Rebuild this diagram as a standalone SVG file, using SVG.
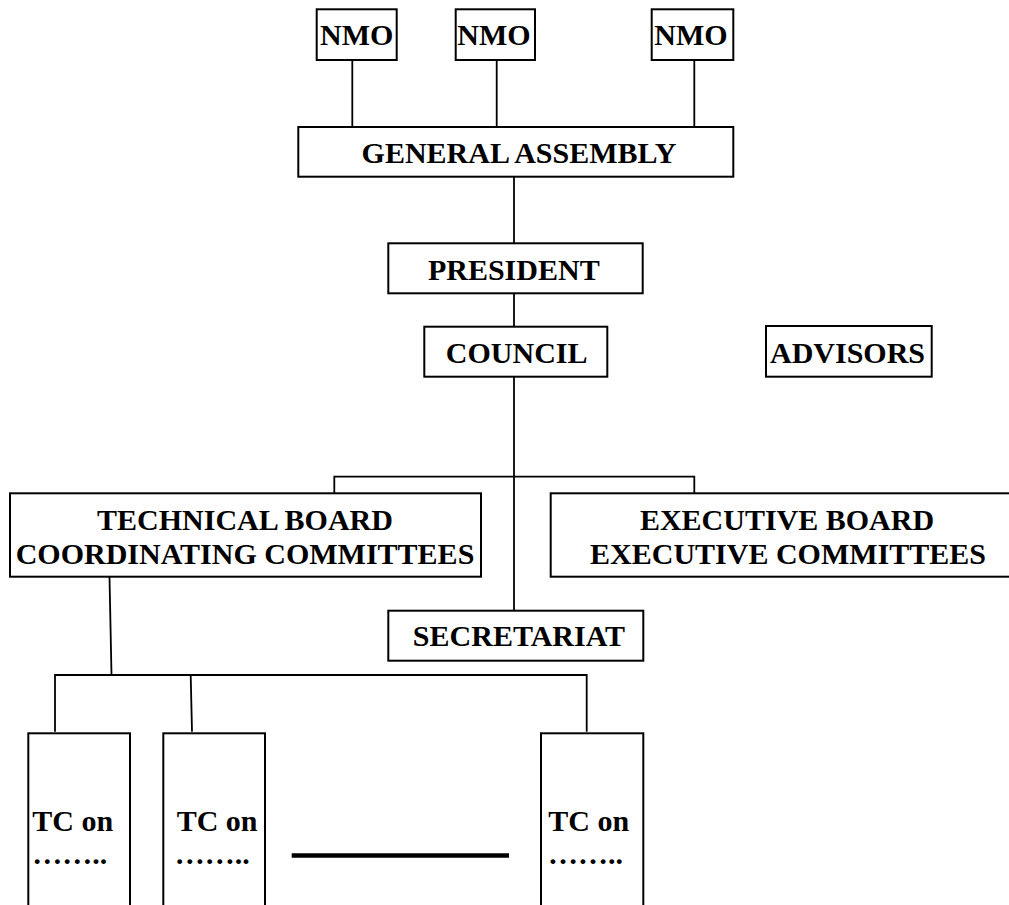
<svg xmlns="http://www.w3.org/2000/svg" width="1009" height="905" viewBox="0 0 1009 905">
<style>
.box{fill:#fff;stroke:#000;stroke-width:2}
.t{font-family:"Liberation Serif","Times New Roman",serif;font-weight:bold;font-size:30px;fill:#000}
.c{text-anchor:middle}
.ln{fill:none;stroke:#000;stroke-width:1.8}
</style>
<rect width="1009" height="905" fill="#fff"/>
<g id="connectors">
<line class="ln" x1="352.3" y1="60" x2="352.3" y2="127"/>
<line class="ln" x1="496.7" y1="60" x2="496.7" y2="127"/>
<line class="ln" x1="694.3" y1="60" x2="694.3" y2="127"/>
<line class="ln" x1="514" y1="176.7" x2="514" y2="243.3"/>
<line class="ln" x1="514" y1="293.3" x2="514" y2="326.7"/>
<line class="ln" x1="514" y1="376.7" x2="514" y2="610.7"/>
<polyline class="ln" points="334.3,493.3 334.3,476.7 694.3,476.7 694.3,493.3"/>
<line class="ln" x1="109.5" y1="576.7" x2="111.5" y2="675"/>
<polyline class="ln" points="55,731.7 55,675 586.7,675 586.7,731.7"/>
<line class="ln" x1="190.7" y1="675" x2="192" y2="731.7"/>
<line x1="291.7" y1="855.5" x2="509" y2="855.5" stroke="#000" stroke-width="4.6"/>
</g>
<g id="nmo1"><rect class="box" x="316.7" y="9.3" width="80" height="50.7"/><text class="t c" x="356.7" y="45">NMO</text></g>
<g id="nmo2"><rect class="box" x="455.7" y="9.3" width="79.3" height="50.7"/><text class="t c" x="494" y="45">NMO</text></g>
<g id="nmo3"><rect class="box" x="651.7" y="9.3" width="81.6" height="50.7"/><text class="t c" x="691" y="45">NMO</text></g>
<g id="general-assembly"><rect class="box" x="298.3" y="127" width="435" height="49.7"/><text class="t c" x="519" y="163">GENERAL ASSEMBLY</text></g>
<g id="president"><rect class="box" x="388.3" y="243.3" width="254.4" height="50"/><text class="t c" x="513.8" y="280">PRESIDENT</text></g>
<g id="council"><rect class="box" x="424.3" y="326.7" width="183" height="50"/><text class="t c" x="516.7" y="363">COUNCIL</text></g>
<g id="advisors"><rect class="box" x="766" y="326" width="165.7" height="50.7"/><text class="t c" x="847.5" y="363">ADVISORS</text></g>
<g id="technical-board"><rect class="box" x="10" y="493.3" width="471" height="83.4"/><text class="t c" x="245" y="530">TECHNICAL BOARD</text><text class="t c" x="245" y="563.5">COORDINATING COMMITTEES</text></g>
<g id="executive-board"><rect class="box" x="550.7" y="493.3" width="476" height="83.4"/><text class="t c" x="787" y="530">EXECUTIVE BOARD</text><text class="t c" x="788" y="563.5">EXECUTIVE COMMITTEES</text></g>
<g id="secretariat"><rect class="box" x="388.3" y="610.7" width="255" height="50"/><text class="t c" x="519" y="646">SECRETARIAT</text></g>
<g id="tc1"><rect class="box" x="28.3" y="733.3" width="101.7" height="190"/><text class="t" x="32.3" y="830.7">TC on</text><text class="t" x="32.3" y="864">……..</text></g>
<g id="tc2"><rect class="box" x="163.3" y="733.3" width="101.7" height="190"/><text class="t" x="176.7" y="830.7">TC on</text><text class="t" x="174.7" y="864">……..</text></g>
<g id="tc3"><rect class="box" x="541" y="733.3" width="102.3" height="190"/><text class="t" x="548.3" y="830.7">TC on</text><text class="t" x="548" y="864">……..</text></g>
</svg>
